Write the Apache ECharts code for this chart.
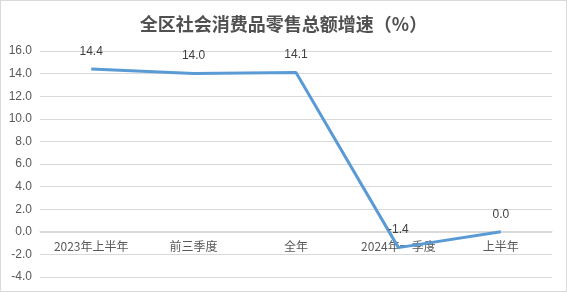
<!DOCTYPE html>
<html><head><meta charset="utf-8">
<script src="https://cdn.jsdelivr.net/npm/echarts@6/dist/echarts.min.js"></script>
<style>html,body{margin:0;padding:0;background:#fff}#c{width:567px;height:292px;box-sizing:border-box;border:1px solid #d9d9d9}</style>
</head><body><div id="c"></div>
<script>
const titleText = '全区社会消费品零售总额增速（%）';
const categories = ['2023年上半年', '前三季度', '全年', '2024年一季度', '上半年'];
const growth = [14.4, 14.0, 14.1, -1.4, 0.0];
const yMin = -4, yMax = 16, yStep = 2;

const chart = echarts.init(document.getElementById('c'));
const gridTop = 50, gridBottom = 14, H = 292;
const zeroOffset = -((H - gridTop - gridBottom) * (0 - yMin) / (yMax - yMin));
chart.setOption({
  animation: false,
  title: {
    text: titleText, left: 'center', top: 9,
    textStyle: { fontFamily: 'Noto Sans CJK SC', fontSize: 18, fontWeight: 'bold', color: '#505050' }
  },
  grid: { left: 39, right: 14, top: gridTop, bottom: gridBottom, containLabel: false, outerBoundsMode: 'none' },
  xAxis: {
    type: 'category', data: categories, boundaryGap: true, offset: zeroOffset,
    axisLine: { onZero: false, lineStyle: { color: '#d9d9d9' } },
    axisTick: { show: false },
    axisLabel: { color: '#595959', fontSize: 12, margin: 9, fontFamily: 'Noto Sans CJK SC' }
  },
  yAxis: {
    type: 'value', min: yMin, max: yMax, interval: yStep,
    axisLabel: { color: '#595959', fontSize: 12, margin: 8, fontFamily: 'Liberation Sans',
      formatter: v => v.toFixed(1) },
    splitLine: { lineStyle: { color: '#d9d9d9', width: 1 } },
    axisLine: { show: false }, axisTick: { show: false }
  },
  series: [{
    type: 'line', data: growth, showSymbol: true, symbol: 'circle', symbolSize: 1,
    itemStyle: { color: 'rgba(91,155,213,0)' },
    lineStyle: { color: '#5B9BD5', width: 3 },
    label: { show: true, position: 'top', distance: 11, color: '#404040', fontSize: 12,
      fontFamily: 'Liberation Sans', formatter: p => p.value.toFixed(1) }
  }]
});
</script></body></html>
